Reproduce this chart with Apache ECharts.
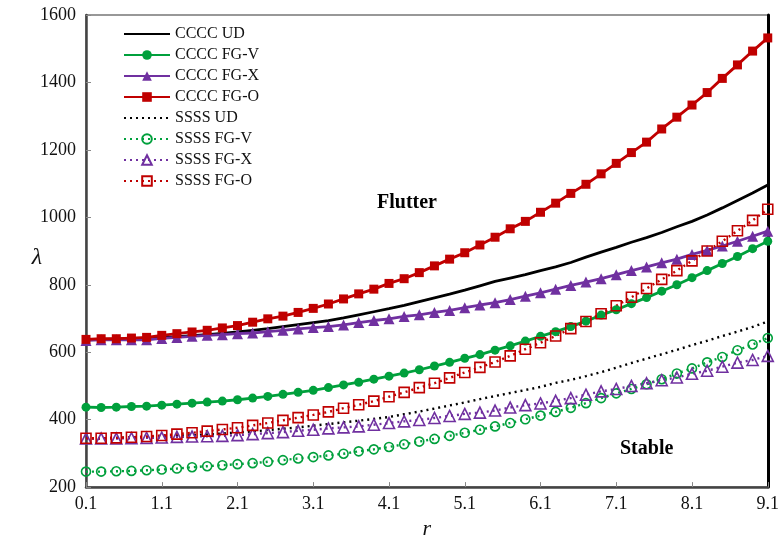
<!DOCTYPE html>
<html>
<head>
<meta charset="utf-8">
<script src="https://cdn.jsdelivr.net/npm/echarts@6/dist/echarts.min.js"></script>
<style>
  html, body { margin: 0; padding: 0; background: #fff; }
  #chart { width: 782px; height: 545px; }
</style>
</head>
<body>
<div id="chart"></div>
<script>
// Aspect ratio r sampled every 0.2
const rValues = ['0.1','0.3','0.5','0.7','0.9','1.1','1.3','1.5','1.7','1.9',
  '2.1','2.3','2.5','2.7','2.9','3.1','3.3','3.5','3.7','3.9',
  '4.1','4.3','4.5','4.7','4.9','5.1','5.3','5.5','5.7','5.9',
  '6.1','6.3','6.5','6.7','6.9','7.1','7.3','7.5','7.7','7.9',
  '8.1','8.3','8.5','8.7','8.9','9.1'];

// Critical flutter parameter λ, clamped plates (CCCC)
const ccccUD = [637,638,639,640,641,643,646,649,652,656,
  660,665,670,676,682,688,694,702,711,720,
  729,739,750,761,772,784,797,810,820,830,
  842,853,866,882,897,911,926,940,955,972,
  988,1007,1028,1050,1072,1096];
const ccccFGV = [437,436,437,439,440,443,446,449,452,455,
  459,464,469,475,481,487,495,503,511,520,
  529,538,548,559,570,582,593,606,619,633,
  647,661,676,692,710,726,744,762,781,800,
  821,842,863,884,907,929];
const ccccFGX = [635,637,637,637,637,641,644,647,650,652,
  655,657,661,665,669,673,676,681,688,694,
  699,706,711,718,724,732,740,747,756,766,
  776,787,798,808,818,830,842,853,865,876,
  890,902,915,929,944,959];
const ccccFGO = [638,640,640,642,644,650,655,660,665,672,
  679,689,699,707,718,730,743,758,773,787,
  804,818,836,856,876,895,918,941,966,988,
  1015,1042,1071,1098,1129,1160,1192,1223,1262,1297,
  1333,1370,1412,1452,1493,1532];

// Simply supported plates (SSSS)
const ssssUD = [345,345,346,347,348,350,352,354,356,359,
  362,365,369,373,377,382,387,392,397,402,
  408,416,424,433,442,451,461,470,479,488,
  497,509,518,529,541,554,568,581,594,607,
  621,634,648,661,675,691];
const ssssFGV = [246,246,247,248,250,252,255,259,262,265,
  268,271,275,280,285,289,294,299,306,312,
  319,327,335,343,352,361,370,380,390,401,
  412,423,435,449,464,478,491,505,520,537,
  552,570,586,606,623,642];
const ssssFGX = [344,344,344,345,346,347,349,350,351,352,
  354,357,360,363,367,370,374,377,380,385,
  390,395,399,405,411,417,421,427,436,443,
  448,456,464,474,484,491,500,508,517,525,
  536,545,557,569,577,589];
const ssssFGO = [345,345,346,348,350,353,357,361,366,371,
  376,383,390,398,406,414,423,434,444,455,
  468,481,495,508,524,540,555,571,589,609,
  628,648,670,691,714,738,763,789,816,842,
  871,900,929,960,991,1024];

const yTicks = { min: 200, max: 1600, step: 200 };

const RED = '#c00000', GREEN = '#00a03c', PURPLE = '#7030a0', BLACK = '#000000';
const SERIF = '"Liberation Serif", "DejaVu Serif", serif';
const DOT = [2, 4];

function solid(name, data, color, symbol, size) {
  return {
    name, type: 'line', data,
    symbol: symbol || 'none', symbolSize: size || 0,
    showSymbol: !!symbol, showAllSymbol: true,
    lineStyle: { color, width: 2.8 },
    itemStyle: { color, borderColor: color, borderWidth: 0 },
    emphasis: { disabled: true },
    animation: false
  };
}
function dotted(name, data, color, symbol, size) {
  return {
    name, type: 'line', data,
    symbol: symbol || 'none', symbolSize: size || 0,
    showSymbol: !!symbol, showAllSymbol: true,
    lineStyle: { color, width: 2.4, type: DOT },
    itemStyle: { color: 'rgba(255,255,255,0)', borderColor: color, borderWidth: 1.6 },
    emphasis: { disabled: true },
    animation: false
  };
}

// Line-only legend entries carry no marker
const noMarker = { color: 'rgba(0,0,0,0)', borderWidth: 0 };

const chart = echarts.init(document.getElementById('chart'), null, { renderer: 'canvas' });
chart.setOption({
  backgroundColor: '#fff',
  animation: false,
  textStyle: { fontFamily: SERIF },
  grid: {
    left: 86, right: 12, top: 15, bottom: 52,
    show: true, borderColor: '#777', borderWidth: 1.5, backgroundColor: '#fff'
  },
  legend: {
    orient: 'vertical', left: 118, top: 21,
    itemWidth: 46, itemHeight: 12, itemGap: 5,
    textStyle: { fontFamily: SERIF, fontSize: 16, color: '#111', lineHeight: 16 },
    data: [
      { name: 'CCCC UD', itemStyle: noMarker },
      'CCCC FG-V', 'CCCC FG-X', 'CCCC FG-O',
      { name: 'SSSS UD', itemStyle: noMarker },
      'SSSS FG-V', 'SSSS FG-X', 'SSSS FG-O'
    ]
  },
  xAxis: {
    type: 'category', data: rValues, boundaryGap: false,
    name: 'r', nameLocation: 'middle', nameGap: 27,
    nameTextStyle: { fontFamily: SERIF, fontStyle: 'italic', fontSize: 22, color: '#111' },
    axisLine: { lineStyle: { color: '#444', width: 2.5 } },
    axisTick: { inside: true, length: 5, interval: 4, lineStyle: { color: '#888' } },
    axisLabel: { interval: 4, fontFamily: SERIF, fontSize: 18, color: '#111', margin: 8 },
    splitLine: { show: false }
  },
  yAxis: [{
    type: 'value', min: yTicks.min, max: yTicks.max, interval: yTicks.step,
    axisLine: { show: true, lineStyle: { color: '#444', width: 2.5 } },
    axisTick: { show: true, inside: true, length: 5, lineStyle: { color: '#888' } },
    axisLabel: { fontFamily: SERIF, fontSize: 18, color: '#111', margin: 10,
      formatter: v => String(v) },
    splitLine: { show: false }
  }, {
    type: 'value', min: yTicks.min, max: yTicks.max, interval: yTicks.step,
    position: 'right',
    axisLine: { show: true, lineStyle: { color: '#000', width: 3 } },
    axisTick: { show: false }, axisLabel: { show: false }, splitLine: { show: false }
  }],
  graphic: [
    // y-axis title
    { type: 'text', x: 37, y: 258,
      style: { text: 'λ', font: 'italic 24px ' + SERIF, fill: '#111',
        align: 'center', verticalAlign: 'middle' } },
    { type: 'text', left: 377, top: 193,
      style: { text: 'Flutter', font: 'bold 20px ' + SERIF, fill: '#000' } },
    { type: 'text', left: 620, top: 439,
      style: { text: 'Stable', font: 'bold 20px ' + SERIF, fill: '#000' } }
  ],
  series: [
    solid('CCCC UD', ccccUD, BLACK),
    solid('CCCC FG-V', ccccFGV, GREEN, 'circle', 9),
    solid('CCCC FG-X', ccccFGX, PURPLE, 'triangle', 11),
    solid('CCCC FG-O', ccccFGO, RED, 'rect', 9),
    dotted('SSSS UD', ssssUD, BLACK),
    dotted('SSSS FG-V', ssssFGV, GREEN, 'circle', 9),
    dotted('SSSS FG-X', ssssFGX, PURPLE, 'triangle', 11),
    dotted('SSSS FG-O', ssssFGO, RED, 'rect', 10)
  ]
});
</script>
</body>
</html>
